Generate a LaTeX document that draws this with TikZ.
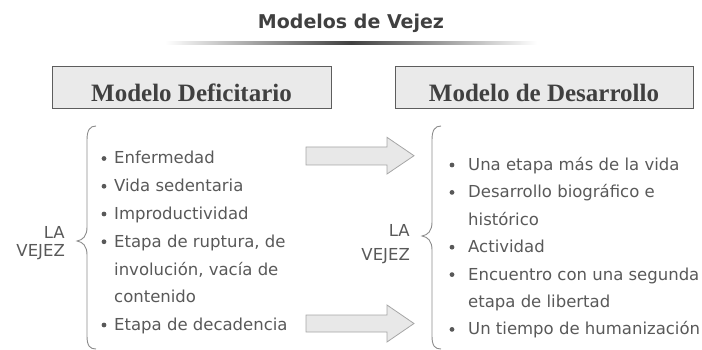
\documentclass[tikz,border=0pt]{standalone}
\usepackage{fontspec}
\setmainfont{DejaVu Sans}
\newfontfamily\boxfont{Liberation Serif}
\usepackage{tikz}

\definecolor{txtgray}{HTML}{595959}
\definecolor{headgray}{HTML}{404040}
\definecolor{boxgray}{HTML}{EAEAEA}
\definecolor{arrowfill}{HTML}{E8E8E8}
\definecolor{arrowline}{HTML}{A6A6A6}
\definecolor{bracegray}{HTML}{8C8C8C}

\begin{document}
\begin{tikzpicture}[x=1pt, y=-1pt,
  item/.style={anchor=base west, inner sep=0pt, text=txtgray, font=\fontsize{16.5}{20}\selectfont},
  vejez/.style={anchor=base east, inner sep=0pt, text=txtgray, font=\fontsize{16.5}{20}\selectfont},
  modelo/.style={draw=headgray!85, fill=boxgray, line width=1pt, inner sep=0pt, minimum height=42pt, text height=30pt, text depth=2pt, text=headgray, font=\boxfont\bfseries\fontsize{25}{30}\selectfont},
  bullet/.style={fill=txtgray},
  fatarrow/.style={fill=arrowfill, draw=arrowline, line width=0.8pt, line join=miter},
  brace/.style={draw=bracegray, line width=0.9pt}]
\useasboundingbox (0,0) rectangle (702,350);

\node[anchor=base, inner sep=0pt, text=headgray, font=\bfseries\fontsize{19}{22}\selectfont] (titulo) at (351,28.3) {Modelos de Vejez};
\shade[left color=white, right color=white, middle color=black!75] (165,42) rectangle (537,44.5);

\node[modelo, minimum width=279pt] (deficit) at (191.5,88) {Modelo Deficitario};
\node[modelo, minimum width=298pt] (desarrollo) at (544,88) {Modelo de Desarrollo};

\node[vejez] (laA) at (65,238.3) {LA};
\node[vejez] (vejezA) at (65,256.7) {VEJEZ};
\draw[brace] (96,126) .. controls (90,126) and (87,130) .. (87,140) -- (87,227)
  .. controls (87,236) and (83,240) .. (77,241) .. controls (83,242) and (87,246) .. (87,255)
  -- (87,336) .. controls (87,346) and (90,349) .. (96,349);

\fill[bullet] (104,158.5) circle (2.4);
\fill[bullet] (104,186.25) circle (2.4);
\fill[bullet] (104,214) circle (2.4);
\fill[bullet] (104,241.75) circle (2.4);
\fill[bullet] (104,325) circle (2.4);
\node[item] (enf) at (114,164) {Enfermedad};
\node[item] (vida) at (114,191.75) {Vida sedentaria};
\node[item] (improd) at (114,219.5) {Improductividad};
\node[item] (ruptura) at (114,247.25) {Etapa de ruptura, de};
\node[item] (involucion) at (114,275) {involución, vacía de};
\node[item] (contenido) at (114,302.75) {contenido};
\node[item] (decad) at (114,330.5) {Etapa de decadencia};

\draw[fatarrow] (306,147) -- (387,147) -- (387,137.3) -- (414,155.7) -- (387,174) -- (387,165) -- (306,165) -- cycle;
\draw[fatarrow] (306,315) -- (387,315) -- (387,305) -- (414,323.5) -- (387,342) -- (387,332) -- (306,332) -- cycle;

\node[vejez] (laB) at (410,236.7) {LA};
\node[vejez] (vejezB) at (410,260) {VEJEZ};
\draw[brace] (441,126) .. controls (435,126) and (432,130) .. (432,140) -- (432,222)
  .. controls (432,231) and (428,235) .. (422,236) .. controls (428,237) and (432,241) .. (432,250)
  -- (432,336) .. controls (432,346) and (435,349) .. (441,349);

\fill[bullet] (452,165) circle (2.4);
\fill[bullet] (452,192.4) circle (2.4);
\fill[bullet] (452,247.2) circle (2.4);
\fill[bullet] (452,274.6) circle (2.4);
\fill[bullet] (452,329.4) circle (2.4);
\node[item] (etapa) at (468,170.5) {Una etapa más de la vida};
\node[item] (biografico) at (468,197.9) {Desarrollo biográfico e};
\node[item] (historico) at (468,225.3) {histórico};
\node[item] (actividad) at (468,252.7) {Actividad};
\node[item] (encuentro) at (468,280.1) {Encuentro con una segunda};
\node[item] (libertad) at (468,307.5) {etapa de libertad};
\node[item] (humaniz) at (468,334.9) {Un tiempo de humanización};
\end{tikzpicture}
\end{document}
